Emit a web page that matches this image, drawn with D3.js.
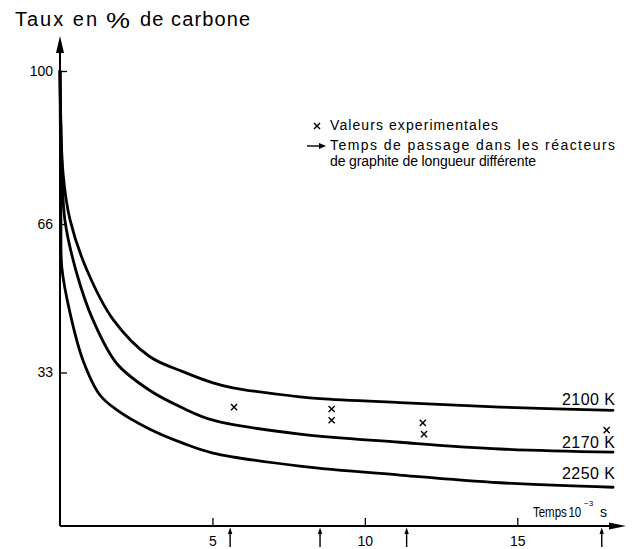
<!DOCTYPE html>
<html><head><meta charset="utf-8">
<script src="https://cdn.jsdelivr.net/npm/d3@7"></script>
<style>
html,body{margin:0;padding:0;background:#fff;}
svg{display:block;}
</style></head>
<body>
<script>
// ---- data ----
const xTicks = [5, 10, 15];
const yTicks = [33, 66, 100];
const seriesNames = ["2100 K", "2170 K", "2250 K"];
const t2100 = [0, 0.1, 0.33, 0.9, 1.75, 2.95, 4.03, 5.02, 5.67, 7.87, 8.53, 11.15, 14.43, 18.14];
const c2100 = [100, 77.3, 66.9, 55.5, 44.7, 36.5, 33.2, 30.7, 29.6, 27.6, 27.2, 26.3, 25.3, 24.6];
const t2170 = [0, 0.07, 0.16, 0.55, 1.08, 1.86, 2.95, 4.03, 5.02, 7.87, 11.15, 14.43, 18.14];
const c2170 = [100, 77.3, 66.9, 55.0, 44.7, 35.0, 29.0, 25.1, 22.4, 19.3, 17.5, 16.0, 15.3];
const t2250 = [0, 0.02, 0.03, 0.06, 0.33, 0.75, 1.31, 1.86, 2.95, 4.03, 5.02, 7.87, 11.15, 14.43, 18.14];
const c2250 = [100, 77.3, 66.9, 56.3, 46.2, 35.8, 28.0, 24.7, 20.4, 17.3, 15.1, 12.2, 10.2, 8.5, 7.5];
const expT = [5.71, 8.91, 8.91, 11.9, 11.94, 17.93];
const expC = [25.3, 24.9, 22.4, 21.8, 19.3, 20.2];
const passageT = [5.58, 8.53, 11.37, 17.77];
const titleText = ["Taux en", "%", "de carbone"];
const legendTexts = ["Valeurs experimentales", "Temps de passage dans les réacteurs", "de graphite de longueur différente"];
const xTitle = ["Temps", "10", "−3", "s"];

// ---- layout ----
const W = 634, H = 549;
const font = "'Liberation Sans', Arial, Helvetica, sans-serif";
const axisY = 526;
const x = d3.scaleLinear().domain([0, 18.5]).range([60, 624]);
const y = d3.scaleLinear().domain([0, 100]).range([521, 71]);

const svg = d3.select("body").append("svg").attr("width", W).attr("height", H)
  .attr("font-family", font);
svg.append("rect").attr("width", W).attr("height", H).attr("fill", "#fff");

// axes lines with arrows
const x0 = x(0);
svg.append("line").attr("x1", x0).attr("x2", x0).attr("y1", axisY).attr("y2", 50)
  .attr("stroke", "#000").attr("stroke-width", 2);
svg.append("path").attr("d", `M${x0},36 L${x0-4},53 L${x0+4},53 Z`).attr("fill", "#000");
svg.append("line").attr("x1", x0).attr("x2", 612).attr("y1", axisY).attr("y2", axisY)
  .attr("stroke", "#000").attr("stroke-width", 2);
svg.append("path").attr("d", `M626,${axisY} L609,${axisY-3.5} L609,${axisY+3.5} Z`).attr("fill", "#000");

// y axis ticks
const yAxis = d3.axisLeft(y).tickValues(yTicks).tickSizeInner(-7).tickSizeOuter(0).tickPadding(7);
const gy = svg.append("g").attr("transform", `translate(${x0},0)`).call(yAxis);
gy.select(".domain").remove();
gy.selectAll(".tick line").attr("stroke", "#000").attr("stroke-width", 1.3);
gy.selectAll(".tick text").attr("font-size", 14).attr("font-family", font).attr("fill", "#000");

// x axis ticks
const xAxis = d3.axisBottom(x).tickValues(xTicks).tickSizeInner(-8).tickSizeOuter(0).tickPadding(10);
const gx = svg.append("g").attr("transform", `translate(0,${axisY})`).call(xAxis);
gx.select(".domain").remove();
gx.selectAll(".tick line").attr("stroke", "#000").attr("stroke-width", 1.3);
gx.selectAll(".tick text").attr("font-size", 14).attr("font-family", font).attr("fill", "#000");

// curves
const series = [
  {t: t2100, c: c2100}, {t: t2170, c: c2170}, {t: t2250, c: c2250}
];
const line = d3.line().x(d => x(d[0])).y(d => y(d[1])).curve(d3.curveCatmullRom.alpha(0.5));
series.forEach(s => {
  svg.append("path").attr("d", line(s.t.map((t, i) => [t, s.c[i]])))
    .attr("fill", "none").attr("stroke", "#000").attr("stroke-width", 2.8)
    .attr("stroke-linecap", "round");
});

// curve labels
const labelBase = [405, 448, 479];
seriesNames.forEach((n, i) => {
  svg.append("text").attr("x", 615).attr("y", labelBase[i]).attr("text-anchor", "end")
    .attr("font-size", 16).attr("textLength", 53).attr("lengthAdjust", "spacing")
    .text(n);
});

// experimental points
const xsym = d3.symbol(d3.symbolX, 26);
expT.forEach((t, i) => {
  svg.append("path").attr("d", xsym()).attr("transform", `translate(${x(t)},${y(expC[i])})`)
    .attr("fill", "none").attr("stroke", "#000").attr("stroke-width", 1.4);
});

// passage arrows
passageT.forEach(t => {
  const px = x(t);
  svg.append("line").attr("x1", px).attr("x2", px).attr("y1", 547).attr("y2", 532)
    .attr("stroke", "#000").attr("stroke-width", 1.4);
  svg.append("path").attr("d", `M${px},527.5 L${px-2.2},534 L${px+2.2},534 Z`).attr("fill", "#000");
});

// x axis title (condensed)
const xt = svg.append("g").attr("transform", "translate(533,517) scale(0.82,1)");
const xtText = xt.append("text").attr("x", 0).attr("y", 0).attr("font-size", 14);
xtText.append("tspan").text(xTitle[0]);
xtText.append("tspan").attr("dx", 2).text(xTitle[1]);
svg.append("text").attr("x", 584).attr("y", 506).attr("font-size", 8).text(xTitle[2]);
svg.append("text").attr("x", 600).attr("y", 517).attr("font-size", 14).text(xTitle[3]);

// title
const tt = svg.append("g").attr("font-size", 20);
tt.append("text").attr("x", 15).attr("y", 26).attr("textLength", 82).attr("lengthAdjust", "spacing").text(titleText[0]);
tt.append("text").attr("x", 106).attr("y", 28).attr("font-size", 22).attr("textLength", 24).attr("lengthAdjust", "spacingAndGlyphs").text(titleText[1]);
tt.append("text").attr("x", 140).attr("y", 26).attr("textLength", 110).attr("lengthAdjust", "spacing").text(titleText[2]);

// legend
const lg = svg.append("g").attr("font-size", 14);
lg.append("path").attr("d", xsym()).attr("transform", "translate(317,126)")
  .attr("fill", "none").attr("stroke", "#000").attr("stroke-width", 1.4);
lg.append("text").attr("x", 330).attr("y", 130).attr("textLength", 168).attr("lengthAdjust", "spacing").text(legendTexts[0]);
lg.append("line").attr("x1", 307).attr("x2", 320).attr("y1", 146).attr("y2", 146).attr("stroke", "#000").attr("stroke-width", 1.4);
lg.append("path").attr("d", "M326,146 L319,143 L319,149 Z").attr("fill", "#000");
lg.append("text").attr("x", 330).attr("y", 150).attr("textLength", 285).attr("lengthAdjust", "spacing").text(legendTexts[1]);
lg.append("text").attr("x", 330).attr("y", 166).attr("textLength", 206).attr("lengthAdjust", "spacing").text(legendTexts[2]);
</script>
</body></html>
